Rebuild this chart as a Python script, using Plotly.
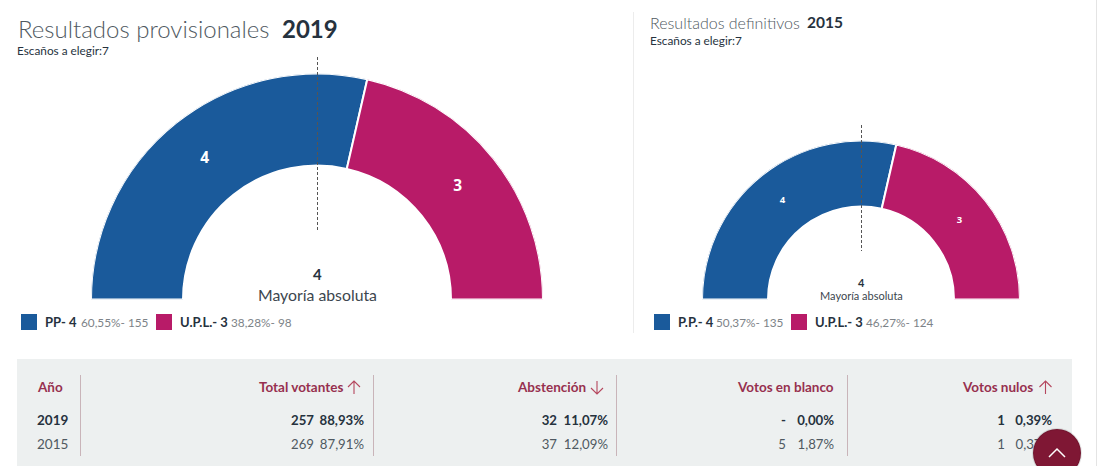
import plotly.graph_objects as go

W, H = 1098, 466
BLUE, MAG, DARK, GREY, RED = "#1a5a9b", "#b81b68", "#26323e", "#7d8388", "#97304f"

# ---- data
parties_2019 = ["PP", "U.P.L."]
seats_2019 = [4, 3]
pct_2019 = ["60,55%", "38,28%"]
votes_2019 = [155, 98]
parties_2015 = ["P.P.", "U.P.L."]
seats_2015 = [4, 3]
pct_2015 = ["50,37%", "46,27%"]
votes_2015 = [135, 124]
colors = [BLUE, MAG]
majority = 4

headers = ["Total votantes", "Abstención", "Votos en blanco", "Votos nulos"]
header_arrows = ["up", "down", "", "up"]
years = ["2019", "2015"]
counts = {"2019": ["257", "32", "-", "1"], "2015": ["269", "37", "5", "1"]}
shares = {"2019": ["88,93%", "11,07%", "0,00%", "0,39%"],
          "2015": ["87,91%", "12,09%", "1,87%", "0,37%"]}

fig = go.Figure()
ann, shp = [], []


def text(x, y, s, size, color=DARK, anchor="left", weight=None, family="Lato"):
    f = dict(family=family, size=size, color=color)
    if weight:
        f["weight"] = weight
    # annotation boxes carry a small inner padding: compensate so x is the ink edge
    dx = {"left": -2, "right": 1.5, "center": 0}[anchor]
    ann.append(dict(x=x + dx, y=y, xref="x", yref="y", text=s, showarrow=False, font=f,
                    xanchor=anchor, yanchor="middle", align=anchor))


def hemicycle(name, seats, cx, cy, ro, ri, label_size, fam="Open Sans"):
    total = sum(seats)
    start = 0.0
    thetas, widths = [], []
    for s in seats:
        w = s / total * 180
        thetas.append(start + w / 2)
        widths.append(w)
        start += w
    fig.add_trace(go.Barpolar(theta=thetas, width=widths, r=[ro - ri] * len(seats), base=ri,
                              marker=dict(color=colors, line=dict(color="white", width=2)),
                              subplot=name, showlegend=False, hoverinfo="skip"))
    fig.add_trace(go.Scatterpolar(theta=thetas, r=[(ro + ri) / 2] * len(seats), mode="text",
                                  text=[f"<b>{s}</b>" for s in seats], subplot=name,
                                  textfont=dict(family=fam, size=label_size, color="white"),
                                  showlegend=False, hoverinfo="skip"))
    polar = dict(domain=dict(x=[(cx - ro) / W, (cx + ro) / W], y=[(H - cy) / H, (H - cy + ro) / H]),
                 sector=[0, 180], bgcolor="rgba(0,0,0,0)",
                 radialaxis=dict(visible=False, range=[0, ro]),
                 angularaxis=dict(visible=False, direction="clockwise", rotation=180, thetaunit="degrees"))
    return polar


polar1 = hemicycle("polar", seats_2019, 317, 299.5, 226, 134, 15.5)
polar2 = hemicycle("polar2", seats_2015, 861, 299.5, 159, 93, 9.5)

# table background and dividers
shp.append(dict(type="rect", x0=17, x1=1072, y0=359, y1=466, fillcolor="#edf0f0", line_width=0, layer="below"))
for x in [80.5, 373.5, 616.5, 847.5]:
    shp.append(dict(type="line", x0=x, x1=x, y0=375, y1=456, line=dict(color="#c9b4b9", width=1), layer="below"))
shp.append(dict(type="line", x0=633.5, x1=633.5, y0=12, y1=333, line=dict(color="#ececec", width=1), layer="below"))
shp.append(dict(type="line", x0=1096.5, x1=1096.5, y0=0, y1=466, line=dict(color="#e4e4e4", width=1), layer="below"))
# majority marks
shp.append(dict(type="line", x0=317.5, x1=317.5, y0=57, y1=232, line=dict(color="#555555", width=1, dash="3px,2px")))
shp.append(dict(type="line", x0=861.5, x1=861.5, y0=125, y1=251, line=dict(color="#555555", width=1, dash="3px,2px")))

# titles
text(18, 28, "Resultados provisionales", 24, "#4f5961", weight=300)
text(282, 28, "2019", 24, DARK, weight=700)
text(17, 50, f"Escaños a elegir:{sum(seats_2019)}", 11.8)
text(650, 22, "Resultados definitivos", 16, "#4f5961", weight=300)
text(807, 22, "2015", 15.5, DARK, weight=700)
text(650, 40, f"Escaños a elegir:{sum(seats_2015)}", 11.8)

# centre labels
text(317, 274, f"<b>{majority}</b>", 15, anchor="center")
text(317, 294, "Mayoría absoluta", 15.8, "#3c464e", anchor="center")
text(861, 282, f"<b>{majority}</b>", 11, anchor="center")
text(861, 295, "Mayoría absoluta", 11, "#3c464e", anchor="center")


def legend(items, positions):
    for (p, s, pc, v), (sq, name_x, val_x), c in zip(items, positions, colors):
        shp.append(dict(type="rect", x0=sq, x1=sq + 16, y0=314, y1=330, fillcolor=c, line_width=0))
        text(name_x, 322, f"<b>{p}- {s}</b>", 13)
        text(val_x, 322.5, f"{pc}- {v}", 11.8, GREY)


legend(list(zip(parties_2019, seats_2019, pct_2019, votes_2019)), [(21, 45, 81), (156, 180, 231)])
legend(list(zip(parties_2015, seats_2015, pct_2015, votes_2015)), [(654, 678, 716), (791, 815, 866)])

# table header
text(37, 387, "<b>Año</b>", 13.5, RED)
header_right = [343, 586, 834, 1033]
arrow_x = [354, 597, None, 1045.5]
for h, a, xr, xa in zip(headers, header_arrows, header_right, arrow_x):
    text(xr, 387, f"<b>{h}</b>", 13.5, RED, anchor="right")
    if a == "up":
        p = f"M{xa},394 L{xa},381 M{xa-6},387 L{xa},381 L{xa+6},387"
    elif a == "down":
        p = f"M{xa},381 L{xa},394 M{xa-6},388 L{xa},394 L{xa+6},388"
    else:
        continue
    shp.append(dict(type="path", path=p, xref="x", yref="y", line=dict(color="#b5475e", width=1.1)))

# table body drawn as text marks so that the scroll button can sit over it
share_right = [364, 608, 834, 1052]
count_right = [314, 557, 786, 1005]
row_y = {"2019": 420, "2015": 444}
tx, ty, ts = [], [], []
for yr in years:
    bold = yr == years[0]
    wrap = (lambda s: f"<b>{s}</b>") if bold else (lambda s: s)
    for xr, xc, c, s in zip(share_right, count_right, counts[yr], shares[yr]):
        tx += [xc, xr]
        ty += [row_y[yr] + 2] * 2
        ts += [wrap(c), wrap(s)]
    text(37, row_y[yr] - 0.5, wrap(yr), 13.5, DARK if bold else "#4f5961")
fig.add_trace(go.Scatter(x=tx, y=ty, mode="text", text=ts, textposition="middle left",
                         textfont=dict(family="Lato", size=13.2, color=[DARK] * 8 + ["#4f5961"] * 8),
                         showlegend=False, hoverinfo="skip", xaxis="x", yaxis="y"))

# scroll-to-top button
fig.add_trace(go.Scatter(x=[1057], y=[453], mode="markers",
                         marker=dict(size=48, color="#7f1734", line=dict(color="rgba(0,0,0,0.10)", width=2)),
                         showlegend=False, hoverinfo="skip", cliponaxis=False))
fig.add_trace(go.Scatter(x=[1049, 1057, 1065], y=[457, 449, 457], mode="lines",
                         line=dict(color="white", width=1.5), showlegend=False, hoverinfo="skip"))

fig.update_layout(
    width=W, height=H, margin=dict(l=0, r=0, t=0, b=0), autosize=False,
    paper_bgcolor="white", plot_bgcolor="rgba(0,0,0,0)",
    xaxis=dict(range=[0, W], domain=[0, 1], visible=False, fixedrange=True),
    yaxis=dict(range=[H, 0], domain=[0, 1], visible=False, fixedrange=True),
    polar=polar1, polar2=polar2, annotations=ann, shapes=shp, showlegend=False,
    font=dict(family="Lato"),
)

fig.write_html("out.html", config=dict(displayModeBar=False),
               post_script="document.body.style.margin='0';document.body.style.overflow='hidden';")
